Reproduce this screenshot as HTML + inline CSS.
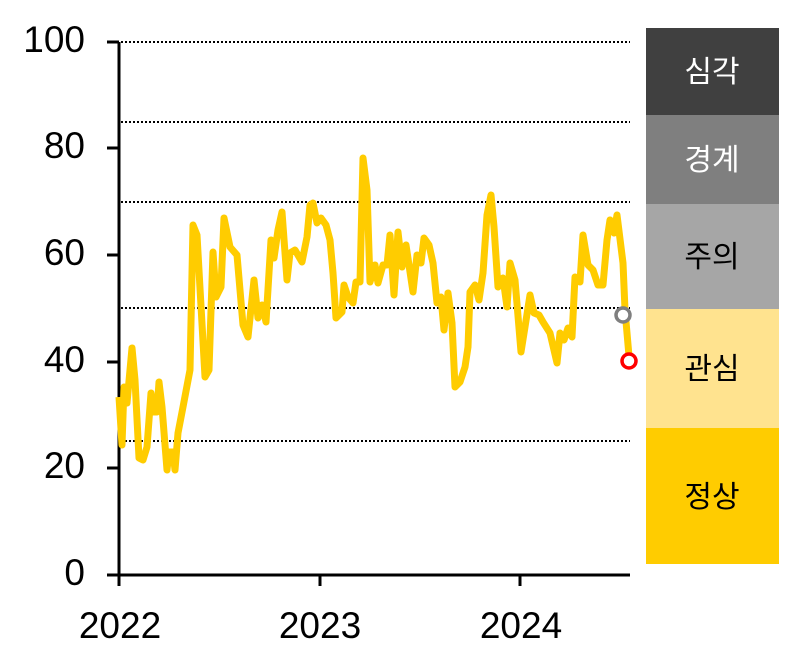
<!DOCTYPE html>
<html><head><meta charset="utf-8"><style>
body{margin:0;background:#fff;width:800px;height:654px;overflow:hidden}
svg text{font-family:"Liberation Sans","Noto Sans CJK KR",sans-serif}
</style></head><body>
<svg width="800" height="654" viewBox="0 0 800 654" xmlns="http://www.w3.org/2000/svg">
<g stroke="#000" stroke-width="2" stroke-dasharray="2,2">
<line x1="121" y1="42" x2="630" y2="42"/>
<line x1="121" y1="122" x2="630" y2="122"/>
<line x1="121" y1="202" x2="630" y2="202"/>
<line x1="121" y1="308" x2="630" y2="308"/>
<line x1="121" y1="441" x2="630" y2="441"/>
</g>
<g stroke="#000" stroke-width="3">
<line x1="119" y1="42" x2="119" y2="576"/>
<line x1="118" y1="575" x2="630" y2="575"/>
<line x1="107" y1="42" x2="119" y2="42"/>
<line x1="107" y1="148" x2="119" y2="148"/>
<line x1="107" y1="255" x2="119" y2="255"/>
<line x1="107" y1="362" x2="119" y2="362"/>
<line x1="107" y1="468" x2="119" y2="468"/>
<line x1="107" y1="575" x2="119" y2="575"/>
<line x1="119" y1="575" x2="119" y2="586"/>
<line x1="320" y1="575" x2="320" y2="586"/>
<line x1="520" y1="575" x2="520" y2="586"/>
</g>
<g font-size="37" fill="#000" text-anchor="end">
<text x="85" y="52">100</text>
<text x="85" y="158">80</text>
<text x="85" y="265">60</text>
<text x="85" y="372">40</text>
<text x="85" y="478">20</text>
<text x="85" y="585">0</text>
</g>
<g font-size="37" fill="#000" text-anchor="middle">
<text x="120" y="638">2022</text>
<text x="320" y="638">2023</text>
<text x="521" y="638">2024</text>
</g>
<polyline fill="none" stroke="#ffcc00" stroke-width="7" stroke-linejoin="round" points="119,397 122,445 124,387 127,403 132,348 135,380 139,458 143,460 147,447 151,393 154,412 157,412 159,382 162,407 167,470 169,452 173,452 175,470 178,433 183,407 190,370 193,225 197,235 205,377 209,370 213,252 216,297 221,287 224,218 230,247 237,255 243,325 248,337 254,280 258,318 262,305 266,322 271,240 274,258 278,230 282,212 287,280 290,253 295,250 302,262 307,237 310,205 313,203 317,223 321,218 326,225 330,240 333,273 336,318 342,312 344,285 348,297 353,303 356,282 360,282 363,158 367,190 370,282 375,265 378,283 383,265 387,265 390,235 394,295 398,232 402,267 406,245 413,292 417,255 421,263 424,238 429,245 433,263 437,303 441,297 444,330 448,293 452,323 455,387 460,382 465,367 468,347 470,292 475,285 479,300 483,273 487,215 491,195 494,227 498,287 503,278 507,307 510,263 515,280 521,352 525,327 530,295 534,313 539,315 543,322 550,333 557,363 560,333 564,340 568,328 572,337 575,277 580,282 583,235 588,265 593,270 598,285 603,285 607,240 610,220 614,233 617,215 623,263 625,310 629,356"/>
<circle cx="623" cy="315" r="7" fill="#fff" stroke="#7f7f7f" stroke-width="3.5"/>
<circle cx="629" cy="361" r="7" fill="#fff" stroke="#ff0000" stroke-width="3.5"/>
<rect x="646" y="28" width="133" height="87" fill="#404040"/>
<rect x="646" y="115" width="133" height="89" fill="#7f7f7f"/>
<rect x="646" y="204" width="133" height="105" fill="#a6a6a6"/>
<rect x="646" y="309" width="133" height="119" fill="#ffe38f"/>
<rect x="646" y="428" width="133" height="136" fill="#ffcc00"/>
<g font-size="30" text-anchor="middle">
<text x="712" y="82" fill="#fff">심각</text>
<text x="712" y="170" fill="#fff">경계</text>
<text x="712" y="267" fill="#000">주의</text>
<text x="712" y="379" fill="#000">관심</text>
<text x="712" y="507" fill="#000">정상</text>
</g>
</svg>
</body></html>
